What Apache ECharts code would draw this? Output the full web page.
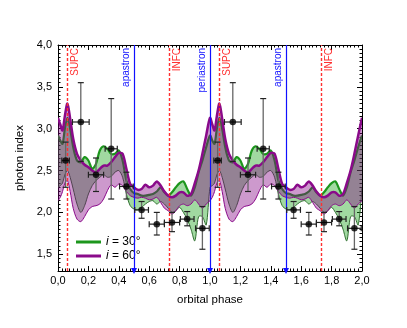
<!DOCTYPE html>
<html><head><meta charset="utf-8">
<script src="https://cdn.jsdelivr.net/npm/echarts@6/dist/echarts.min.js"></script>
<style>html,body{margin:0;padding:0;background:#fff}#c{width:407px;height:328px}</style>
</head><body><div id="c"></div>
<script>
// one orbital period of model bands (repeated for the second period)
const phase = [0, 0.015, 0.03, 0.045, 0.062, 0.08, 0.1, 0.125, 0.15, 0.175, 0.2, 0.225, 0.25, 0.275, 0.3, 0.325, 0.35, 0.375, 0.4, 0.425, 0.45, 0.475, 0.5, 0.525, 0.55, 0.575, 0.6, 0.625, 0.65, 0.675, 0.7, 0.725, 0.75, 0.775, 0.8, 0.825, 0.85, 0.875, 0.9, 0.925, 0.95, 0.975];
const i60Upper = [3.13, 3.05, 2.98, 3.15, 3.30, 3.12, 2.88, 2.70, 2.62, 2.57, 2.54, 2.50, 2.48, 2.52, 2.56, 2.56, 2.60, 2.66, 2.71, 2.70, 2.52, 2.34, 2.30, 2.27, 2.28, 2.33, 2.30, 2.32, 2.37, 2.32, 2.25, 2.20, 2.18, 2.20, 2.24, 2.24, 2.20, 2.22, 2.35, 2.50, 2.70, 2.92];
const i60Lower = [2.14, 2.18, 2.25, 2.35, 2.38, 2.25, 2.05, 1.92, 1.89, 1.95, 2.03, 2.07, 2.08, 2.10, 2.16, 2.26, 2.33, 2.30, 2.34, 2.32, 2.25, 2.20, 2.18, 2.17, 2.18, 2.17, 2.15, 2.16, 2.18, 2.12, 2.05, 2.02, 1.98, 2.02, 2.08, 2.10, 2.08, 2.10, 2.15, 2.10, 2.05, 2.10];
const i30Upper = [2.92, 2.86, 2.82, 3.00, 3.13, 3.00, 2.78, 2.62, 2.60, 2.66, 2.62, 2.52, 2.58, 2.74, 2.79, 2.76, 2.70, 2.70, 2.74, 2.62, 2.38, 2.28, 2.23, 2.22, 2.20, 2.20, 2.21, 2.22, 2.25, 2.30, 2.24, 2.20, 2.24, 2.30, 2.35, 2.37, 2.28, 2.20, 2.30, 2.48, 2.62, 2.78];
const i30Lower = [2.30, 2.32, 2.35, 2.45, 2.50, 2.42, 2.28, 2.10, 2.00, 2.08, 2.22, 2.32, 2.38, 2.42, 2.45, 2.42, 2.43, 2.48, 2.50, 2.42, 2.22, 2.08, 2.04, 2.03, 2.06, 2.10, 2.13, 2.14, 2.10, 2.13, 2.10, 2.05, 2.00, 2.02, 2.06, 2.00, 1.92, 1.80, 1.66, 1.95, 1.95, 1.85];

// observed photon index (one period, repeated)
const obsPhase = [0.05, 0.15, 0.25, 0.35, 0.45, 0.55, 0.65, 0.75, 0.85, 0.95];
const obsIndex = [2.62, 3.08, 2.45, 2.76, 2.31, 2.03, 1.86, 1.88, 1.92, 1.81];
const obsPhaseErr = [0.025, 0.055, 0.05, 0.04, 0.045, 0.045, 0.05, 0.05, 0.045, 0.045];
const obsErrLow = [0.32, 0.47, 0.20, 0.60, 0.15, 0.10, 0.13, 0.11, 0.08, 0.25];
const obsErrHigh = [0.22, 0.47, 0.20, 0.60, 0.17, 0.10, 0.14, 0.12, 0.09, 0.26];

const yTickValues = [1.5, 2.0, 2.5, 3.0, 3.5, 4.0];
const markerNames = ['SUPC', 'apastron', 'INFC', 'periastron', 'SUPC', 'apastron', 'INFC'];
const markerPhases = [0.06, 0.5, 0.73, 1.0, 1.06, 1.5, 1.73];

const legendLabels = {i30: '{it|i} = 30°', i60: '{it|i} = 60°'};

// build two periods
function twoPeriods(vals, shift) {
  const out = [];
  for (let k = 0; k < 2; k++) for (let j = 0; j < vals.length; j++) out.push(vals[j] + (shift ? k : 0));
  out.push(vals[0] + (shift ? 2 : 0));
  return out;
}
const X = twoPeriods(phase, true);

const obsData = [];
for (let k = 0; k < 2; k++) for (let j = 0; j < obsPhase.length; j++)
  obsData.push([obsPhase[j] + k, obsIndex[j], obsPhaseErr[j], obsErrLow[j], obsErrHigh[j]]);

const FONT = 'Liberation Sans';
const fmt = v => (Math.round(v * 10) / 10).toFixed(1).replace('.', ',');

function bandSeries(name, up, lo, fill, upColor, upWidth, loColor, z) {
  const U0 = twoPeriods(up, false), L0 = twoPeriods(lo, false);
  return {
    name: name, type: 'custom', data: [[1, 2.5]], z: z, clip: true,
    itemStyle: {color: upColor},
    renderItem: function (params, api) {
      const U = X.map((x, i) => api.coord([x, U0[i]]));
      const L = X.map((x, i) => api.coord([x, L0[i]]));
      return {type: 'group', children: [
        {type: 'polygon', shape: {points: U.concat(L.slice().reverse()), smooth: 0.3}, style: {fill: fill}},
        {type: 'polyline', shape: {points: L, smooth: 0.3}, style: {stroke: loColor, lineWidth: 1, fill: null}},
        {type: 'polyline', shape: {points: U, smooth: 0.3}, style: {stroke: upColor, lineWidth: upWidth, fill: null}}
      ]};
    }
  };
}

const mlData = markerNames.map((n, i) => {
  const isRed = (n === 'SUPC' || n === 'INFC');
  const col = isRed ? '#ff3030' : '#1010ff';
  return [
    {coord: [markerPhases[i], 1.3], symbol: isRed ? 'none' : 'triangle', symbolSize: [6, 6], symbolRotate: 180,
     lineStyle: {color: col, type: isRed ? [3, 2] : 'solid', width: isRed ? 1.4 : 1.2},
     label: {show: true, formatter: n, position: isRed ? 'insideEndBottom' : 'insideEndTop', color: col,
             fontSize: 10, fontFamily: FONT, distance: 3}},
    {coord: [markerPhases[i], 4.0], symbol: 'none'}
  ];
});

const chart = echarts.init(document.getElementById('c'), null, {renderer: 'canvas'});
const axisLineStyle = {show: true, lineStyle: {color: '#000', width: 1}};
chart.setOption({
  animation: false,
  textStyle: {fontFamily: FONT},
  grid: {left: 58, right: 45, top: 45, bottom: 57},
  xAxis: [
    {type: 'value', position: 'bottom', min: 0, max: 2, interval: 0.2,
     axisLine: axisLineStyle, splitLine: {show: false},
     axisTick: {inside: true, length: 5, lineStyle: {color: '#000'}},
     minorTick: {show: true, splitNumber: 8, length: 2.5, lineStyle: {color: '#000'}},
     axisLabel: {formatter: fmt, color: '#000', fontSize: 11, fontFamily: FONT, margin: 4},
     name: 'orbital phase', nameLocation: 'middle', nameGap: 23,
     nameTextStyle: {color: '#000', fontSize: 11.5, fontFamily: FONT}},
    {type: 'value', position: 'top', min: 0, max: 2, interval: 0.2,
     axisLine: axisLineStyle, splitLine: {show: false},
     axisTick: {inside: true, length: 5, lineStyle: {color: '#000'}},
     minorTick: {show: true, splitNumber: 8, length: 2.5, lineStyle: {color: '#000'}},
     axisLabel: {show: false}}
  ],
  yAxis: [
    {type: 'value', position: 'left', min: 1.3, max: 4.0, interval: 0.05,
     axisLine: axisLineStyle, splitLine: {show: false},
     axisTick: {inside: true, length: 2.5, lineStyle: {color: '#000'}},
     axisLabel: {show: false}},
    {type: 'value', position: 'left', min: 1.3, max: 4.0,
     axisLine: {show: false}, splitLine: {show: false},
     axisTick: {inside: true, length: 5, customValues: yTickValues, lineStyle: {color: '#000'}},
     axisLabel: {customValues: yTickValues, formatter: fmt, color: '#000', fontSize: 11, fontFamily: FONT, margin: 6},
     name: 'photon index', nameLocation: 'middle', nameGap: 28,
     nameTextStyle: {color: '#000', fontSize: 11.5, fontFamily: FONT}},
    {type: 'value', position: 'right', min: 1.3, max: 4.0, interval: 0.05,
     axisLine: axisLineStyle, splitLine: {show: false},
     axisTick: {inside: true, length: 2.5, lineStyle: {color: '#000'}},
     axisLabel: {show: false}},
    {type: 'value', position: 'right', min: 1.3, max: 4.0,
     axisLine: {show: false}, splitLine: {show: false},
     axisTick: {inside: true, length: 5, customValues: yTickValues, lineStyle: {color: '#000'}},
     axisLabel: {show: false}}
  ],
  legend: {
    orient: 'vertical', left: 71, top: 231, itemWidth: 25, itemHeight: 3, itemGap: 2,
    data: [
      {name: 'i30', icon: 'rect', itemStyle: {color: '#1c961c'}},
      {name: 'i60', icon: 'rect', itemStyle: {color: '#8a0a8a'}}
    ],
    formatter: n => legendLabels[n],
    textStyle: {color: '#000', fontSize: 12, fontFamily: FONT,
                rich: {it: {fontStyle: 'italic', fontSize: 12, fontFamily: FONT}}}
  },
  series: [
    bandSeries('i30', i30Upper, i30Lower, 'rgba(20,160,20,0.4)', '#1c961c', 2.2, '#2f6f2f', 2),
    bandSeries('i60', i60Upper, i60Lower, 'rgba(130,0,130,0.4)', '#8a0a8a', 2.5, '#8a0a8a', 3),
    {name: 'err', type: 'custom', data: obsData, z: 5,
     renderItem: function (params, api) {
       const x = api.value(0), y = api.value(1), xe = api.value(2), lo = api.value(3), hi = api.value(4);
       const c = api.coord([x, y]);
       const l = api.coord([x - xe, y]), r = api.coord([x + xe, y]);
       const b = api.coord([x, y - lo]), t = api.coord([x, y + hi]);
       const cap = 3;
       const ys = {stroke: '#666', lineWidth: 1.3};
       const xs = {stroke: '#222', lineWidth: 1.2};
       return {type: 'group', children: [
         {type: 'line', shape: {x1: c[0], y1: b[1], x2: c[0], y2: t[1]}, style: ys},
         {type: 'line', shape: {x1: c[0] - cap, y1: b[1], x2: c[0] + cap, y2: b[1]}, style: xs},
         {type: 'line', shape: {x1: c[0] - cap, y1: t[1], x2: c[0] + cap, y2: t[1]}, style: xs},
         {type: 'line', shape: {x1: l[0], y1: c[1], x2: r[0], y2: c[1]}, style: xs},
         {type: 'line', shape: {x1: l[0], y1: c[1] - cap, x2: l[0], y2: c[1] + cap}, style: xs},
         {type: 'line', shape: {x1: r[0], y1: c[1] - cap, x2: r[0], y2: c[1] + cap}, style: xs}
       ]};
     }},
    {name: 'obs', type: 'scatter', data: obsData.map(d => [d[0], d[1]]), symbol: 'circle', symbolSize: 6.5,
     itemStyle: {color: '#000'}, z: 6,
     markLine: {silent: true, symbol: 'none', data: mlData, z: 4, animation: false}}
  ]
});
</script></body></html>
